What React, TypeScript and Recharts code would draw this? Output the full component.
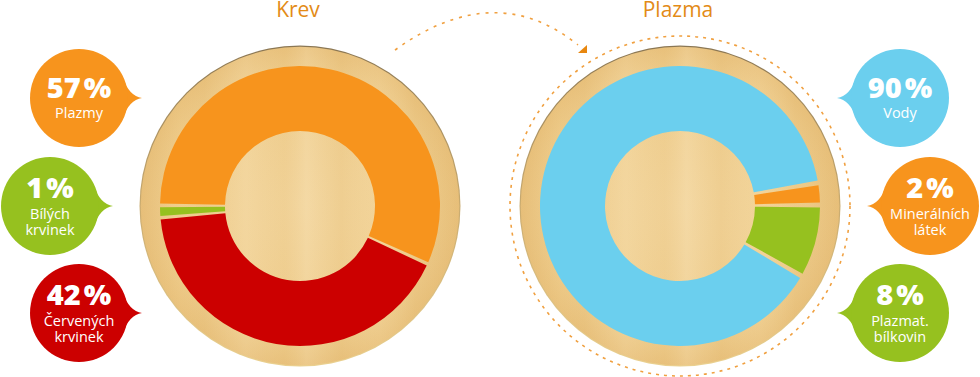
import React from 'react';
import { PieChart, Pie, Cell } from 'recharts';

// Krev (blood) composition
const bloodNames = ['Plazmy', 'Červených krvinek', 'Bílých krvinek'];
const bloodValues = [57, 42, 1];
const bloodColors = ['#f7941d', '#cc0000', '#96c11f'];

// Plazma composition
const plasmaNames = ['Minerálních látek', 'Plazmat. bílkovin', 'Vody'];
const plasmaValues = [2, 8, 90];
const plasmaColors = ['#f7941d', '#96c11f', '#6bcfee'];

const titles = ['Krev', 'Plazma'];

const bloodData = bloodNames.map((name, i) => ({ name, value: bloodValues[i] }));
const plasmaData = plasmaNames.map((name, i) => ({ name, value: plasmaValues[i] }));

type Bubble = { x: number; y: number; side: 'left' | 'right'; value: number; lines: string[]; color: string };

const bubbles: Bubble[] = [
  { x: 79, y: 98, side: 'left', value: bloodValues[0], lines: ['Plazmy'], color: bloodColors[0] },
  { x: 50, y: 206, side: 'left', value: bloodValues[2], lines: ['Bílých', 'krvinek'], color: bloodColors[2] },
  { x: 79, y: 313, side: 'left', value: bloodValues[1], lines: ['Červených', 'krvinek'], color: bloodColors[1] },
  { x: 900, y: 98, side: 'right', value: plasmaValues[2], lines: ['Vody'], color: plasmaColors[2] },
  { x: 930, y: 206, side: 'right', value: plasmaValues[0], lines: ['Minerálních', 'látek'], color: plasmaColors[0] },
  { x: 900, y: 313, side: 'right', value: plasmaValues[1], lines: ['Plazmat.', 'bílkovin'], color: plasmaColors[1] },
];

const R = 49;

function SpeechBubble({ b }: { b: Bubble }) {
  const d = b.side === 'left' ? 1 : -1;
  const tail = `M ${b.x + d * 44} ${b.y - 20} Q ${b.x + d * 50} ${b.y - 2} ${b.x + d * 63} ${b.y} Q ${b.x + d * 50} ${b.y + 2} ${b.x + d * 44} ${b.y + 20} Z`;
  const two = b.lines.length > 1;
  const pctY = two ? b.y - 8 : b.y;
  return (
    <g>
      <path d={tail} fill={b.color} />
      <circle cx={b.x} cy={b.y} r={R} fill={b.color} />
      <text x={b.x} y={pctY} textAnchor="middle" fill="#fff" fontSize={29} fontWeight={800}>
        {b.value}
        <tspan dx={3}>%</tspan>
      </text>
      <text x={b.x} y={two ? b.y + 13 : b.y + 20} textAnchor="middle" fill="#fff" fontSize={14.5}>
        {b.lines.map((l, i) => (
          <tspan key={l} x={b.x} dy={i === 0 ? 0 : 16}>
            {l}
          </tspan>
        ))}
      </text>
    </g>
  );
}

function Wood({ cx }: { cx: number }) {
  return (
    <g>
      <circle cx={cx} cy={206} r={160.5} fill="url(#rim)" />
      <circle cx={cx} cy={206} r={159.3} fill="url(#wood)" />
      <circle cx={cx} cy={206} r={159.3} fill="url(#grain)" />
    </g>
  );
}

export default function App() {
  return (
    <div style={{ position: 'absolute', left: 0, top: 0, width: 980, height: 377, background: '#fff', fontFamily: '"Open Sans", sans-serif' }}>
      <svg width={980} height={377} style={{ position: 'absolute', left: 0, top: 0 }}>
        <defs>
          <linearGradient id="rim" x1="0" y1="0" x2="0" y2="1">
            <stop offset="0%" stopColor="#8a7653" />
            <stop offset="50%" stopColor="#c9ab70" />
            <stop offset="100%" stopColor="#ead08f" />
          </linearGradient>
          <radialGradient id="wood" cx="50%" cy="50%" r="50%">
            <stop offset="0%" stopColor="#f3d59b" />
            <stop offset="80%" stopColor="#f0cf8f" />
            <stop offset="100%" stopColor="#eac37e" />
          </radialGradient>
          <linearGradient id="grain" x1="0" y1="0" x2="1" y2="0">
            <stop offset="0%" stopColor="#c8954a" stopOpacity={0.1} />
            <stop offset="12%" stopColor="#c8954a" stopOpacity={0.02} />
            <stop offset="20%" stopColor="#c8954a" stopOpacity={0.08} />
            <stop offset="33%" stopColor="#ffffff" stopOpacity={0.08} />
            <stop offset="45%" stopColor="#c8954a" stopOpacity={0.06} />
            <stop offset="52%" stopColor="#ffffff" stopOpacity={0.1} />
            <stop offset="63%" stopColor="#c8954a" stopOpacity={0.08} />
            <stop offset="75%" stopColor="#ffffff" stopOpacity={0.05} />
            <stop offset="86%" stopColor="#c8954a" stopOpacity={0.08} />
            <stop offset="100%" stopColor="#c8954a" stopOpacity={0.1} />
          </linearGradient>
        </defs>
        <Wood cx={300} />
        <circle cx={680} cy={206} r={170} fill="none" stroke="#f0a040" strokeWidth={1.6} strokeDasharray="3 5" />
        <Wood cx={680} />
        <path d="M 395 50 Q 495 -22 578 45" fill="none" stroke="#f0a040" strokeWidth={1.6} strokeDasharray="3 6" />
        <polygon points="587,45 587,53 578,53" fill="#e8870f" />
      </svg>
      <div style={{ position: 'absolute', left: 0, top: 0 }}>
        <PieChart width={980} height={377} margin={{ top: 0, right: 0, bottom: 0, left: 0 }}>
          <Pie
            data={bloodData}
            dataKey="value"
            cx={300}
            cy={206}
            innerRadius={75}
            outerRadius={140}
            startAngle={179}
            endAngle={-181}
            paddingAngle={1.5}
            stroke="none"
            isAnimationActive={false}
          >
            {bloodData.map((d, i) => (
              <Cell key={d.name} fill={bloodColors[i]} />
            ))}
          </Pie>
          <Pie
            data={plasmaData}
            dataKey="value"
            cx={680}
            cy={206}
            innerRadius={75}
            outerRadius={140}
            startAngle={8.5}
            endAngle={-351.5}
            paddingAngle={2}
            stroke="none"
            isAnimationActive={false}
          >
            {plasmaData.map((d, i) => (
              <Cell key={d.name} fill={plasmaColors[i]} />
            ))}
          </Pie>
        </PieChart>
      </div>
      <svg width={980} height={377} style={{ position: 'absolute', left: 0, top: 0, pointerEvents: 'none' }}>
        <text x={298} y={17} textAnchor="middle" fill="#e38b17" fontSize={21}>
          {titles[0]}
        </text>
        <text x={678} y={17} textAnchor="middle" fill="#e38b17" fontSize={21}>
          {titles[1]}
        </text>
        {bubbles.map((b) => (
          <SpeechBubble key={b.lines.join(' ')} b={b} />
        ))}
      </svg>
    </div>
  );
}
